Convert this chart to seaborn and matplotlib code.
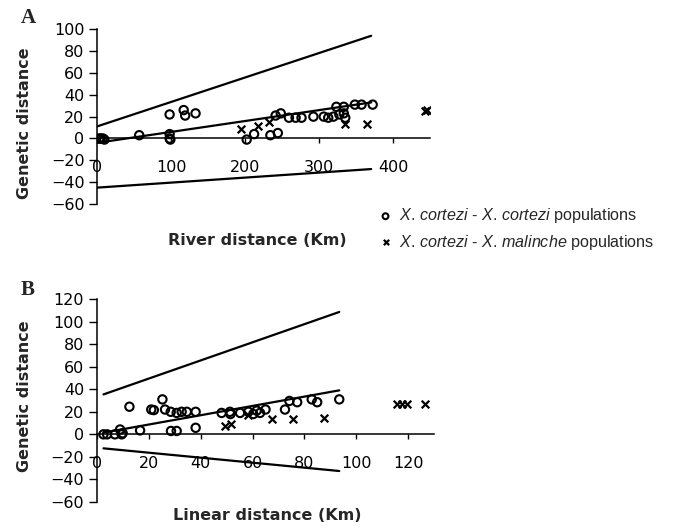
import numpy as np
import pandas as pd
import matplotlib
matplotlib.use("Agg")
import matplotlib.pyplot as plt
import seaborn as sns

# Panel A: river distance (km) vs genetic distance
river_cc_x = [3, 5, 8, 10, 57, 98, 98, 98, 99, 117, 119, 133, 202, 212, 234, 244,
              241, 248, 259, 268, 276, 292, 306, 319, 312, 323, 327, 333, 333,
              335, 348, 357, 372]
river_cc_y = [0, 0, 0, -1, 3, 22, 4, 0, -1, 26, 21, 23, -1, 4, 3, 5,
              21, 23, 19, 19, 19, 20, 20, 20, 19, 29, 22, 29, 23,
              19, 31, 31, 31]
river_cm_x = [195, 217, 232, 334, 364, 443, 445]
river_cm_y = [9, 11, 15, 13.5, 13.5, 25.5, 26.5]

# regression line and limits (panel A)
river_line_x = [0, 370]
river_fit = [-4, 33]
river_upper = [11, 94]
river_lower = [-45, -28]

# Panel B: linear distance (km) vs genetic distance
lin_cc_x = [2.6, 4, 7, 9, 9.6, 10, 16.7, 12.6, 21, 22, 25.3, 26.3, 28.5, 28.6,
            30.8, 30.8, 32.7, 34.7, 38.1, 38.1, 48.1, 51.3, 51.5, 55.2, 58.4,
            60.3, 61.6, 62.9, 65, 72.5, 74.2, 77.2, 82.8, 84.9, 93.4]
lin_cc_y = [0, 0, 0, 4.3, 0, 1, 3.5, 24.5, 22, 21.5, 31, 22, 20, 3,
            3, 19, 20, 20, 20, 5.8, 19, 20, 18, 19, 20,
            18, 21, 19, 22, 22, 29.6, 28.5, 31, 28.5, 31]
lin_cm_x = [49.4, 51.6, 58.4, 67.6, 75.5, 87.5, 115.8, 117.4, 119.4, 126.4]
lin_cm_y = [7, 9.5, 17, 13.5, 13.5, 14.4, 26.5, 26.5, 26.5, 26.5]

lin_line_x = [2.6, 93.4]
lin_fit = [1.5, 39]
lin_upper = [35.4, 108.5]
lin_lower = [-12.4, -32.5]

sns.set_style("ticks")
plt.rcParams['font.family'] = ['DejaVu Sans']

fig = plt.figure(figsize=(6.82, 5.28), dpi=100)
axA = fig.add_axes([0.1422, 0.6136, 0.489, 0.331])
axB = fig.add_axes([0.1418, 0.0492, 0.495, 0.3845])


def draw_panel(ax, cc_x, cc_y, cm_x, cm_y, line_x, fit, upper, lower):
    sns.scatterplot(x=cc_x, y=cc_y, ax=ax, marker='o', s=36, facecolor='none',
                    edgecolor='black', linewidth=1.5, zorder=3)
    sns.scatterplot(x=cm_x, y=cm_y, ax=ax, marker='x', s=30, color='black',
                    linewidth=1.6, zorder=3)
    for yy in (fit, upper, lower):
        sns.lineplot(x=line_x, y=yy, ax=ax, color='black', linewidth=1.6, zorder=2)
    ax.spines['top'].set_visible(False)
    ax.spines['right'].set_visible(False)
    ax.spines['bottom'].set_position(('data', 0))
    for sp in ('left', 'bottom'):
        ax.spines[sp].set_linewidth(1.1)
        ax.spines[sp].set_color('black')
    ax.tick_params(axis='y', length=6, width=1, pad=3, labelsize=11.5, colors='black')
    ax.tick_params(axis='x', length=3.5, width=1, pad=12, labelsize=11.5, colors='black')


draw_panel(axA, river_cc_x, river_cc_y, river_cm_x, river_cm_y,
           river_line_x, river_fit, river_upper, river_lower)
axA.set_xlim(0, 450)
axA.set_ylim(-60, 100)
axA.set_xticks(range(0, 401, 100))
axA.set_yticks(range(-60, 101, 20))
axA.set_xlabel('River distance (Km)', fontsize=11.5, fontweight='bold')
axA.set_ylabel('Genetic distance', fontsize=11.5, fontweight='bold')
axA.xaxis.set_label_coords(0.48, -0.206)
axA.xaxis.label.set_va('center')
axA.yaxis.set_label_coords(-0.216, 0.463)
axA.yaxis.label.set_va('center')

draw_panel(axB, lin_cc_x, lin_cc_y, lin_cm_x, lin_cm_y,
           lin_line_x, lin_fit, lin_upper, lin_lower)
axB.set_xlim(0, 130)
axB.set_ylim(-60, 120)
axB.set_xticks(range(0, 121, 20))
axB.set_yticks(range(-60, 121, 20))
axB.set_xlabel('Linear distance (Km)', fontsize=11.5, fontweight='bold')
axB.set_ylabel('Genetic distance', fontsize=11.5, fontweight='bold')
axB.xaxis.set_label_coords(0.504, -0.064)
axB.xaxis.label.set_va('center')
axB.yaxis.set_label_coords(-0.2132, 0.519)
axB.yaxis.label.set_va('center')

fig.text(0.042, 0.966, 'A', fontsize=15, fontweight='bold', family='Liberation Serif',
         ha='center', va='center')
fig.text(0.041, 0.451, 'B', fontsize=15, fontweight='bold', family='Liberation Serif',
         ha='center', va='center')

plt.rcParams['mathtext.fontset'] = 'custom'
plt.rcParams['mathtext.it'] = 'Liberation Sans:italic'
plt.rcParams['mathtext.rm'] = 'Liberation Sans'
handles = [axA.collections[0], axA.collections[1]]
labels = [r'$\it{X.\,cortezi}$ - $\it{X.\,cortezi}$ populations',
          r'$\it{X.\,cortezi}$ - $\it{X.\,malinche}$ populations']
fig.legend(handles, labels, loc='upper left', bbox_to_anchor=(0.557, 0.6090),
           frameon=False, borderpad=0, borderaxespad=0, handlelength=0.7,
           handletextpad=0.5, labelspacing=0.45, markerscale=0.7,
           prop={'family': 'Liberation Sans', 'size': 11.6})

plt.savefig('out.png', dpi=100)
